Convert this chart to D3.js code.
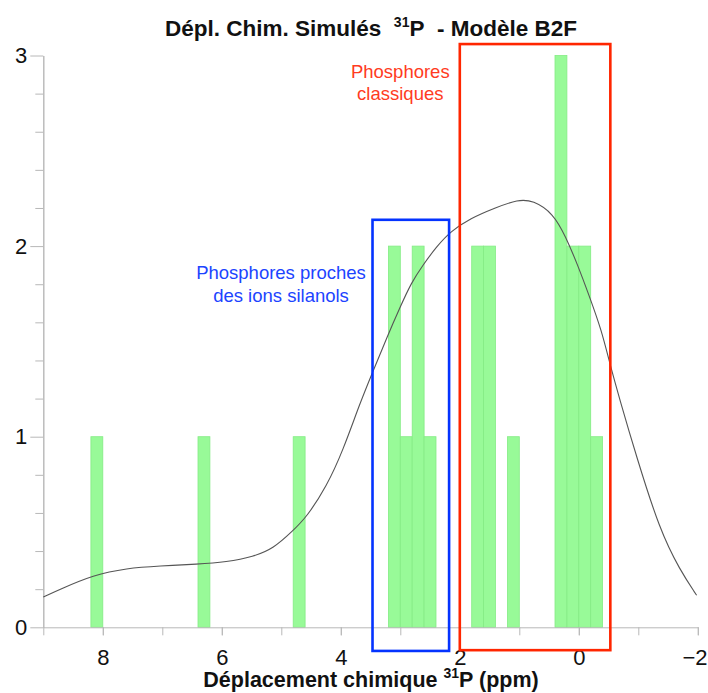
<!DOCTYPE html>
<html><head><meta charset="utf-8">
<script src="https://cdn.jsdelivr.net/npm/d3@7"></script>
<style>body{margin:0;background:#fff}svg{display:block}</style>
</head><body><svg id="c" width="708" height="693"></svg>
<script>
// Histogram bins (ppm) and counts
const binHigh = [8.2, 6.4, 4.8, 3.2, 3.0, 2.8, 2.6, 1.8, 1.6, 1.2, 0.4, 0.2, 0.0, -0.2];
const binLow  = [8.0, 6.2, 4.6, 3.0, 2.8, 2.6, 2.4, 1.6, 1.4, 1.0, 0.2, 0.0, -0.2, -0.4];
const counts  = [1, 1, 1, 2, 1, 2, 1, 2, 2, 1, 3, 2, 2, 1];

// Smoothed density curve
const curveX = [9.0, 8.72, 8.16, 7.60, 7.04, 6.41, 5.92, 5.47, 5.13, 4.82, 4.57, 4.24, 3.96, 3.68, 3.45, 3.22, 3.00, 2.82, 2.62, 2.39, 2.16, 1.82, 1.41, 1.02, 0.77, 0.43, 0.22, 0.03, -0.18, -0.38, -0.52, -0.69, -0.97, -1.36, -1.70, -1.98];
const curveY = [0.159, 0.199, 0.274, 0.310, 0.322, 0.331, 0.343, 0.370, 0.414, 0.502, 0.580, 0.738, 0.930, 1.175, 1.350, 1.525, 1.682, 1.805, 1.901, 1.997, 2.076, 2.146, 2.200, 2.245, 2.240, 2.172, 2.049, 1.910, 1.735, 1.560, 1.385, 1.193, 0.895, 0.51, 0.30, 0.168];

// Axis ticks
const xMajorTicks = [8, 6, 4, 2, 0, -2];
const xMinorTicks = [9, 8, 7, 6, 5, 4, 3, 2, 1, 0, -1, -2];
const yMajorTicks = [0, 1, 2, 3];
const yMinorTicks = [0.2, 0.4, 0.6, 0.8, 1.2, 1.4, 1.6, 1.8, 2.2, 2.4, 2.6, 2.8];

// Annotation boxes (data units: ppm high, ppm low, count top, count bottom)
const boxNames  = ["silanols", "classiques"];
const boxHigh   = [3.467, 2.0];
const boxLow    = [2.18, -0.53];
const boxTop    = [2.138, 3.06];
const boxBottom = [-0.124, -0.12];
const boxColors = ["#0433ff", "#ff2600"];
const labelLines = [["Phosphores proches", "des ions silanols"], ["Phosphores", "classiques"]];
const labelX     = [5.005, 3.0];
const labelY     = [1.827, 2.882];
const labelColors = ["#1c44ff", "#ff3b22"];

const svg = d3.select("#c");
const FONT = "'Liberation Sans', Arial, Helvetica, sans-serif";
const x = d3.scaleLinear().domain([9, -2]).range([43.3, 697.8]);
const y = d3.scaleLinear().domain([0, 3]).range([627.3, 55.5]);

// bars
const bars = binHigh.map((h, i) => ({h, l: binLow[i], c: counts[i]}));
svg.append("g").selectAll("rect").data(bars).join("rect")
  .attr("x", d => x(d.h))
  .attr("width", d => x(d.l) - x(d.h))
  .attr("y", d => y(d.c))
  .attr("height", d => y(0) - y(d.c))
  .attr("fill", "#98fa98")
  .attr("stroke", "#84ec84")
  .attr("stroke-width", 0.8);

// axes
const axisColor = "#b8b8b8";
function styleAxis(g) {
  g.selectAll("path.domain").attr("stroke", axisColor).attr("stroke-width", 1);
  g.selectAll(".tick line").attr("stroke", axisColor).attr("stroke-width", 1);
}
const gxMinor = svg.append("g").attr("transform", `translate(0,${y(0)})`)
  .call(d3.axisBottom(x).tickValues(xMinorTicks).tickSize(8).tickSizeOuter(0).tickFormat(""));
styleAxis(gxMinor);
const gx = svg.append("g").attr("transform", `translate(0,${y(0)})`)
  .call(d3.axisBottom(x).tickValues(xMajorTicks).tickSize(8).tickPadding(14).tickSizeOuter(0));
styleAxis(gx);
gx.select("path.domain").remove();
gx.selectAll("text").attr("font-family", FONT).attr("font-size", 22).attr("fill", "#111");
// keep the last label inside the window
gx.selectAll(".tick").filter(d => d === -2).select("text")
  .attr("text-anchor", "end").attr("x", 707 - x(-2));

const gyMinor = svg.append("g").attr("transform", `translate(${x(9)},0)`)
  .call(d3.axisLeft(y).tickValues(yMinorTicks).tickSize(8).tickSizeOuter(0).tickFormat(""));
styleAxis(gyMinor);
const gy = svg.append("g").attr("transform", `translate(${x(9)},0)`)
  .call(d3.axisLeft(y).tickValues(yMajorTicks).tickSize(13).tickPadding(3).tickSizeOuter(0).tickFormat(d3.format("d")));
styleAxis(gy);
gy.selectAll("text").attr("font-family", FONT).attr("font-size", 22).attr("fill", "#111");

// density curve
const pts = curveX.map((v, i) => [v, curveY[i]]);
svg.append("path").datum(pts)
  .attr("fill", "none").attr("stroke", "#555").attr("stroke-width", 1.1)
  .attr("d", d3.line().x(d => x(d[0])).y(d => y(d[1])).curve(d3.curveBasis));

// boxes
boxNames.forEach((n, i) => {
  svg.append("rect")
    .attr("x", x(boxHigh[i])).attr("y", y(boxTop[i]))
    .attr("width", x(boxLow[i]) - x(boxHigh[i]))
    .attr("height", y(boxBottom[i]) - y(boxTop[i]))
    .attr("fill", "none").attr("stroke", boxColors[i]).attr("stroke-width", 2.6);
  const t = svg.append("text").attr("text-anchor", "middle")
    .attr("font-family", FONT).attr("font-size", 18.5).attr("fill", labelColors[i]);
  labelLines[i].forEach((line, k) => {
    t.append("tspan").attr("x", x(labelX[i])).attr("y", y(labelY[i]) + k * 22.5).text(line);
  });
});

// title
const title = svg.append("text").attr("x", 371).attr("y", 36).attr("text-anchor", "middle")
  .attr("font-family", FONT).attr("font-weight", "bold").attr("font-size", 22.5).attr("fill", "#111");
title.append("tspan").text("Dépl. Chim. Simulés\u00a0\u00a0");
title.append("tspan").attr("font-size", 14).attr("dy", -9).text("31");
title.append("tspan").attr("dy", 9).text("P\u00a0\u00a0- Modèle B2F");

// x axis label
const xl = svg.append("text").attr("x", 371).attr("y", 687).attr("text-anchor", "middle")
  .attr("font-family", FONT).attr("font-weight", "bold").attr("font-size", 21.5).attr("fill", "#111");
xl.append("tspan").text("Déplacement chimique ");
xl.append("tspan").attr("font-size", 14).attr("dy", -9).text("31");
xl.append("tspan").attr("dy", 9).text("P (ppm)");
</script>
</body></html>
